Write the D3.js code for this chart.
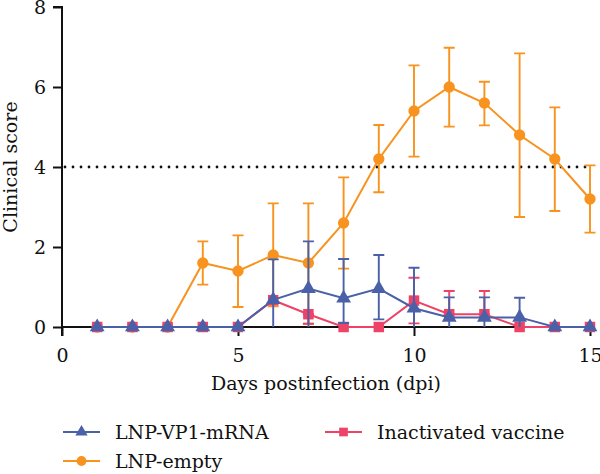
<!DOCTYPE html>
<html>
<head>
<meta charset="utf-8">
<script src="https://cdn.jsdelivr.net/npm/d3@7"></script>
<style>
  html, body { margin: 0; padding: 0; background: #fff; }
  svg text { font-family: "DejaVu Serif", serif; fill: #111; }
</style>
</head>
<body>
<svg id="chart" width="600" height="474"></svg>
<script>
// ---- data ----
const days = [1, 2, 3, 4, 5, 6, 7, 8, 9, 10, 11, 12, 13, 14, 15];
const vp1Mean   = [0, 0, 0, 0, 0, 0.68, 0.96, 0.72, 0.96, 0.47, 0.24, 0.24, 0.24, 0, 0];
const vp1Upper  = [0, 0, 0, 0, 0, 1.69, 2.14, 1.70, 1.80, 1.48, 0.74, 0.74, 0.73, 0, 0];
const vp1Lower  = [0, 0, 0, 0, 0, 0, 0, 0.10, 0.19, 0, 0, 0, 0, 0, 0];
const emptyMean  = [0, 0, 0, 1.6, 1.4, 1.8, 1.6, 2.6, 4.2, 5.4, 6.0, 5.6, 4.8, 4.2, 3.2];
const emptyUpper = [0, 0, 0, 2.14, 2.29, 3.09, 3.09, 3.74, 5.05, 6.54, 6.98, 6.13, 6.84, 5.49, 4.04];
const emptyLower = [0, 0, 0, 1.06, 0.50, 0.52, 0.08, 1.46, 3.37, 4.26, 5.01, 5.04, 2.75, 2.90, 2.36];
const inactMean  = [0, 0, 0, 0, 0, 0.67, 0.32, 0, 0, 0.66, 0.32, 0.32, 0, 0, 0];
const inactUpper = [0, 0, 0, 0, 0, 0.67, 0.32, 0, 0, 1.23, 0.90, 0.90, 0, 0, 0];
const inactLower = [0, 0, 0, 0, 0, 0.67, 0.08, 0, 0, 0.09, 0.32, 0.32, 0, 0, 0];
const xTicks = [0, 5, 10, 15];
const yTicks = [0, 2, 4, 6, 8];
const threshold = 4;
const seriesNames = ["LNP-VP1-mRNA", "Inactivated vaccine", "LNP-empty"];
const xTitle = "Days postinfection (dpi)";
const yTitle = "Clinical score";

// ---- styling ----
const colors = { vp1: "#4A60A8", empty: "#F7931E", inact: "#EE4266" };
const svg = d3.select("#chart");
const x = d3.scaleLinear().domain([0, 15]).range([62, 590]);
const y = d3.scaleLinear().domain([0, 8]).range([327, 7]);
const fs = 19;

// axes
const yAxis = svg.append("g").attr("transform", `translate(${x(0)},0)`)
  .call(d3.axisLeft(y).tickValues(yTicks).tickFormat(d3.format("d")).tickSize(9).tickPadding(7));
const xAxis = svg.append("g").attr("transform", `translate(0,${y(0)})`)
  .call(d3.axisBottom(x).tickValues(xTicks).tickFormat(d3.format("d")).tickSize(9).tickPadding(13));
[xAxis, yAxis].forEach(g => {
  g.select(".domain").attr("stroke", "#111").attr("stroke-width", 2);
  g.selectAll(".tick line").attr("stroke", "#111").attr("stroke-width", 2);
  g.selectAll(".tick text").style("font-family", "DejaVu Serif").style("font-size", fs + "px").attr("fill", "#111");
});
yAxis.selectAll(".tick text").attr("dy", "0.36em");
yAxis.select(".domain").attr("d", `M-9,${y(8)}H0V${y(0) + 9}`);
xAxis.select(".domain").attr("d", `M${x(0)},0H${x(15)}`);

// threshold dotted line
svg.append("line")
  .attr("x1", x(0) + 3).attr("x2", x(15)).attr("y1", y(threshold)).attr("y2", y(threshold))
  .attr("stroke", "#111").attr("stroke-width", 2.8).attr("stroke-linecap", "round")
  .attr("stroke-dasharray", "0,8");

// titles
svg.append("text").attr("x", (x(0) + x(15)) / 2).attr("y", 390).attr("text-anchor", "middle")
  .style("font-size", fs + "px").text(xTitle);
svg.append("text").attr("transform", `translate(17,${y(4)}) rotate(-90)`).attr("text-anchor", "middle")
  .style("font-size", fs + "px").text(yTitle);

function drawSeries(mean, lower, upper, color, shape) {
  const g = svg.append("g");
  const pts = days.map((d, i) => ({ d, m: mean[i], lo: lower[i], hi: upper[i] }));
  // error bars
  const eb = pts.filter(p => p.hi > p.lo);
  g.selectAll(".eb").data(eb).join("path")
    .attr("d", p => `M${x(p.d)},${y(p.lo)}V${y(p.hi)}M${x(p.d) - 5.5},${y(p.hi)}H${x(p.d) + 5.5}` +
      (p.lo > 0 ? `M${x(p.d) - 5.5},${y(p.lo)}H${x(p.d) + 5.5}` : ""))
    .attr("stroke", color).attr("stroke-width", 1.9).attr("fill", "none");
  // line
  g.append("path").datum(pts)
    .attr("d", d3.line().x(p => x(p.d)).y(p => y(p.m)))
    .attr("fill", "none").attr("stroke", color).attr("stroke-width", 2);
  // markers
  const size = shape === d3.symbolCircle ? 100 : shape === d3.symbolSquare ? 110 : 95;
  const sym = d3.symbol().type(shape).size(size);
  g.selectAll(".pt").data(pts).join("path")
    .attr("transform", p => `translate(${x(p.d)},${y(p.m)})`)
    .attr("d", sym).attr("fill", color);
}
drawSeries(emptyMean, emptyLower, emptyUpper, colors.empty, d3.symbolCircle);
drawSeries(inactMean, inactLower, inactUpper, colors.inact, d3.symbolSquare);
drawSeries(vp1Mean, vp1Lower, vp1Upper, colors.vp1, d3.symbolTriangle);

// legend
const legendItems = [
  { name: seriesNames[0], color: colors.vp1, shape: d3.symbolTriangle, lx: 63, ly: 432 },
  { name: seriesNames[1], color: colors.inact, shape: d3.symbolSquare, lx: 325, ly: 432 },
  { name: seriesNames[2], color: colors.empty, shape: d3.symbolCircle, lx: 63, ly: 461 }
];
const lg = svg.append("g").selectAll("g").data(legendItems).join("g")
  .attr("transform", d => `translate(${d.lx},${d.ly})`);
lg.append("line").attr("x1", 0).attr("x2", 37).attr("stroke", d => d.color).attr("stroke-width", 2);
lg.append("path").attr("transform", "translate(18.5,0)")
  .attr("d", d => d3.symbol().type(d.shape).size(d.shape === d3.symbolSquare ? 75 : d.shape === d3.symbolCircle ? 75 : 65)()).attr("fill", d => d.color);
lg.append("text").attr("x", 52).attr("dy", "0.35em").style("font-size", fs + "px").text(d => d.name);
</script>
</body>
</html>
